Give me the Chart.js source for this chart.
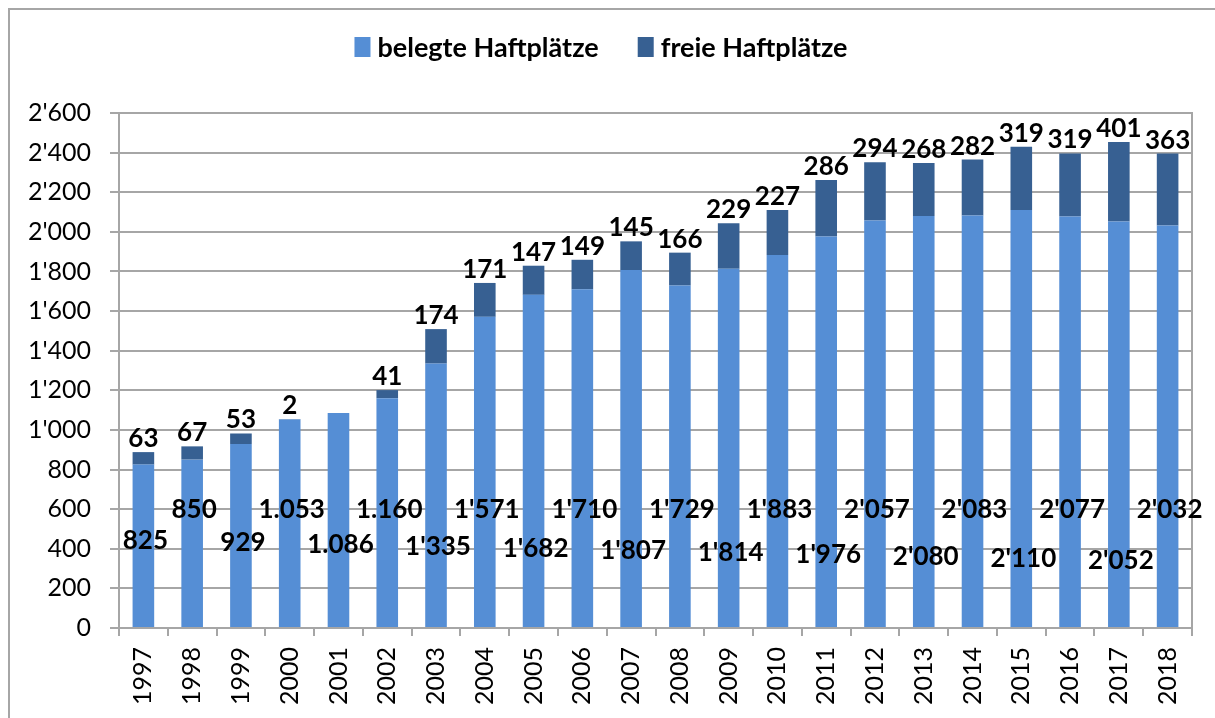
<!DOCTYPE html>
<html>
<head>
<meta charset="utf-8">
<script src="https://cdn.jsdelivr.net/npm/chart.js@4"></script>
<style>
  body { margin: 0; background: #fff; }
</style>
</head>
<body>
<canvas id="chart" width="1215" height="718"></canvas>
<script>
const years = ['1997', '1998', '1999', '2000', '2001', '2002', '2003', '2004', '2005', '2006', '2007',
    '2008', '2009', '2010', '2011', '2012', '2013', '2014', '2015', '2016', '2017', '2018'];
const belegte = [825, 850, 929, 1053, 1086, 1160, 1335, 1571, 1682, 1710, 1807,
    1729, 1814, 1883, 1976, 2057, 2080, 2083, 2110, 2077, 2052, 2032];
const belegteText = ['825', '850', '929', '1.053', '1.086', '1.160', "1'335", "1'571", "1'682", "1'710", "1'807",
    "1'729", "1'814", "1'883", "1'976", "2'057", "2'080", "2'083", "2'110", "2'077", "2'052", "2'032"];
const freie = [63, 67, 53, 2, 0, 41, 174, 171, 147, 149, 145,
    166, 229, 227, 286, 294, 268, 282, 319, 319, 401, 363];

const gridGray = '#a6a6a6';
const fontFamily = 'Lato, "Open Sans", sans-serif';

function withApostrophe(v) {
    return String(v).replace(/\B(?=(\d{3})+(?!\d))/g, "'");
}

// frame round the chart (only top and left edge are visible in the picture)
const framePlugin = {
    id: 'frame',
    beforeDraw(chart) {
        const ctx = chart.ctx;
        ctx.save();
        ctx.fillStyle = '#fff';
        ctx.fillRect(0, 0, chart.width, chart.height);
        ctx.strokeStyle = gridGray;
        ctx.lineWidth = 2;
        ctx.strokeRect(9, 9, chart.width + 20, chart.height + 20);
        ctx.restore();
    }
};

const legendPlugin = {
    id: 'topLegend',
    afterDraw(chart) {
        const ctx = chart.ctx;
        ctx.save();
        ctx.font = 'bold 27px ' + fontFamily;
        ctx.textBaseline = 'middle';
        const boxW = 16, boxH = 20, gap = 7, itemGap = 39, cy = 47;
        const items = chart.data.datasets.map(ds => ({
            text: ds.label, color: ds.backgroundColor, w: ctx.measureText(ds.label).width
        }));
        const total = items.reduce((s, it) => s + boxW + gap + it.w, 0) + itemGap * (items.length - 1);
        let x = 601 - total / 2;
        items.forEach(it => {
            ctx.fillStyle = it.color;
            ctx.fillRect(x, cy - boxH / 2, boxW, boxH);
            ctx.fillStyle = '#000';
            ctx.fillText(it.text, x + boxW + gap, cy + 1);
            x += boxW + gap + it.w + itemGap;
        });
        ctx.restore();
    }
};

const labelPlugin = {
    id: 'barLabels',
    afterDatasetsDraw(chart) {
        const ctx = chart.ctx;
        const yScale = chart.scales.y;
        ctx.save();
        ctx.font = 'bold 26px ' + fontFamily;
        ctx.fillStyle = '#000';
        ctx.textAlign = 'center';

        // belegte: staggered on two levels
        ctx.textBaseline = 'middle';
        chart.getDatasetMeta(0).data.forEach((bar, i) => {
            const level = i % 2 === 1 ? 598 : 440 - i * 5;
            ctx.fillText(belegteText[i], bar.x + 2, yScale.getPixelForValue(level));
        });

        // freie: above the stack
        ctx.textBaseline = 'alphabetic';
        chart.getDatasetMeta(1).data.forEach((bar, i) => {
            if (!freie[i]) return;
            ctx.fillText(withApostrophe(freie[i]), bar.x, bar.y - 5);
        });
        ctx.restore();
    }
};

const ctx = document.getElementById('chart').getContext('2d');
new Chart(ctx, {
    type: 'bar',
    data: {
        labels: years,
        datasets: [
            {
                label: 'belegte Haftplätze',
                data: belegte,
                backgroundColor: '#558ED5',
                categoryPercentage: 1,
                barPercentage: 0.443
            },
            {
                label: 'freie Haftplätze',
                data: freie,
                backgroundColor: '#376092',
                categoryPercentage: 1,
                barPercentage: 0.443
            }
        ]
    },
    options: {
        responsive: false,
        animation: false,
        devicePixelRatio: 1,
        layout: {
            padding: {top: 113, right: 23, left: 0, bottom: 0}
        },
        scales: {
            x: {
                stacked: true,
                grid: {
                    offset: true,
                    drawOnChartArea: false,
                    color: gridGray,
                    lineWidth: 2,
                    tickLength: 8
                },
                border: {color: gridGray, width: 2},
                ticks: {
                    minRotation: 90,
                    maxRotation: 90,
                    padding: 11,
                    color: '#000',
                    font: {family: fontFamily, size: 25}
                },
                afterFit: (scale) => { scale.height = 90; }
            },
            y: {
                stacked: true,
                min: 0,
                max: 2600,
                grid: {
                    color: gridGray,
                    lineWidth: 2,
                    tickLength: 9
                },
                border: {color: gridGray, width: 2},
                ticks: {
                    stepSize: 200,
                    padding: 19,
                    color: '#000',
                    font: {family: fontFamily, size: 25},
                    callback: (value) => withApostrophe(value)
                },
                afterFit: (scale) => { scale.width = 119; }
            },
            y2: {
                position: 'right',
                display: true,
                grid: {drawOnChartArea: false, drawTicks: false},
                border: {color: gridGray, width: 2},
                ticks: {display: false},
                afterFit: (scale) => { scale.width = 0; }
            }
        },
        plugins: {
            legend: {display: false},
            title: {display: false},
            tooltip: {enabled: false}
        }
    },
    plugins: [framePlugin, legendPlugin, labelPlugin]
});
</script>
</body>
</html>
